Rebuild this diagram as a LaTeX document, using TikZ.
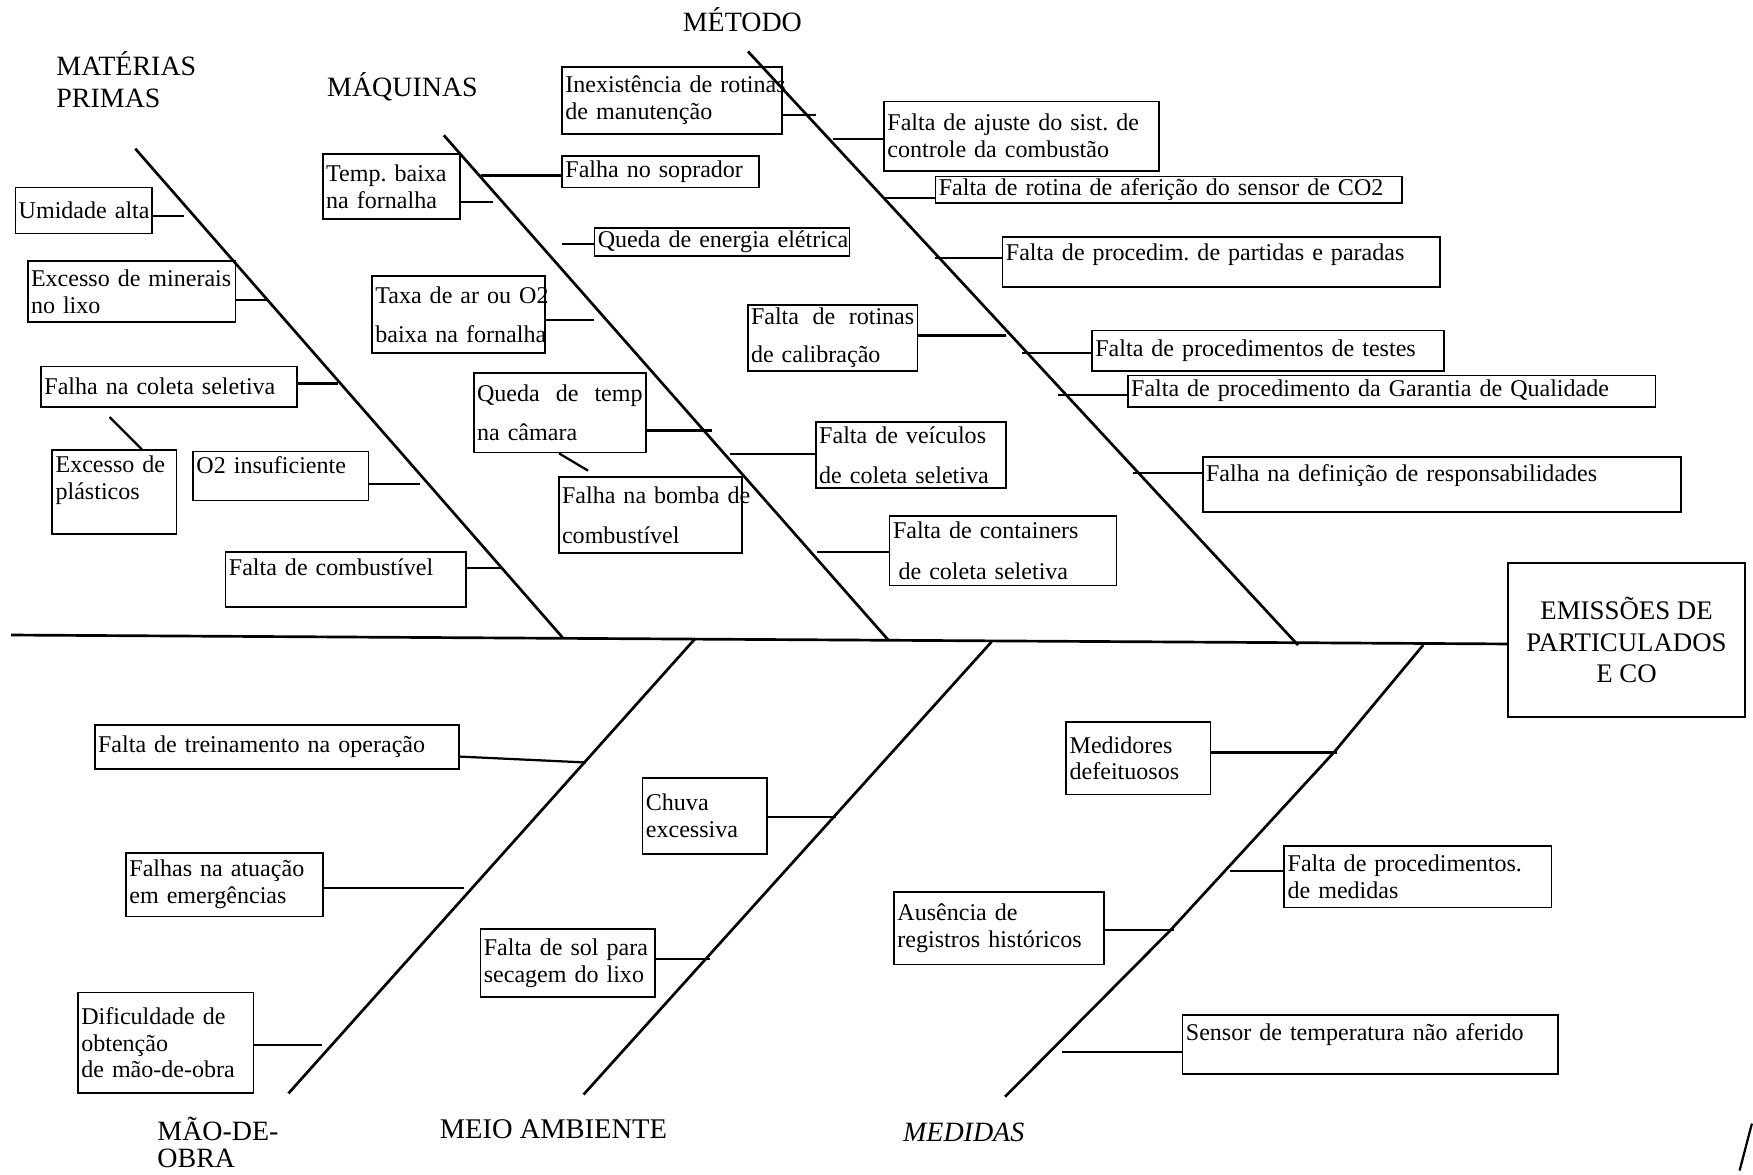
\documentclass[tikz,border=0pt]{standalone}
\usepackage{fontspec}
\setmainfont{Liberation Serif}
\frenchspacing

\begin{document}
\begin{tikzpicture}[x=1pt,y=-1pt,
    causa/.style={draw,line width=1.5pt,anchor=north west,align=left,
      inner xsep=3pt,inner ysep=2pt,font=\fontsize{21.5}{24}\selectfont},
    grupo/.style={align=left,inner sep=0pt,font=\fontsize{25}{29}\selectfont},
    espinha/.style={line width=2.4pt},
    ramo/.style={line width=2pt}]
  \useasboundingbox (0,0) rectangle (1568,1051);

  % categorias e efeito
  \node[grupo] (g-mp) at (113,71) {MATÉRIAS\\PRIMAS};
  \node[grupo] (g-maq) at (360,78) {MÁQUINAS};
  \node[grupo] (g-met) at (664,18) {MÉTODO};
  \node[grupo,font=\fontsize{25}{24}\selectfont] (g-mo) at (195,1022) {MÃO-DE-\\OBRA};
  \node[grupo,font=\fontsize{25.5}{29}\selectfont] (g-ma) at (495,1010) {MEIO AMBIENTE};
  \node[grupo,font=\fontsize{25}{29}\selectfont\itshape] (g-med) at (862,1013) {MEDIDAS};
  \node[draw,line width=1.8pt,anchor=north west,minimum width=212pt,minimum height=137pt,
    align=center,font=\fontsize{24}{28}\selectfont] (efeito) at (1348,503)
    {EMISSÕES DE\\PARTICULADOS\\E CO};

  % materias primas
  \node[causa,text width=116pt,minimum height=41pt] (umid) at (13,167) {\mbox{Umidade alta}};
  \node[causa,text width=180pt,minimum height=54pt] (miner) at (24,233) {Excesso de minerais\\no lixo};
  \node[causa,text width=223pt,minimum height=36pt] (coleta) at (36,327) {Falha na coleta seletiva};
  \node[causa,text width=105pt,text height=18pt,text depth=53pt] (plast) at (46,402) {Excesso de\\plásticos};
  \node[causa,text width=151pt,text height=18pt,text depth=22pt] (o2) at (172,403) {O2 insuficiente};
  \node[causa,text width=209pt,text height=19pt,text depth=26pt] (comb) at (201,493) {Falta de combustível};

  % maquinas
  \node[causa,text width=117pt,minimum height=58pt] (temp) at (288,137) {Temp. baixa\\na fornalha};
  \node[causa,text width=170pt,minimum height=28pt] (sopr) at (502,139) {Falha no soprador};
  \node[causa,text width=222pt,minimum height=25pt] (energia) at (531,203) {\mbox{Queda de energia elétrica}};
  \node[causa,text width=149pt,minimum height=69pt] (taxa) at (332,246) {\mbox{Taxa de ar ou O2}\\[11pt]\mbox{baixa na fornalha}};
  \node[causa,text width=148pt,minimum height=71pt] (qtemp) at (423,333) {Queda\hfill de\hfill temp\\[11pt]na câmara};
  \node[causa,text width=158pt,minimum height=68pt] (bomba) at (499,426) {\mbox{Falha na bomba de}\\[12pt]combustível};
  \node[causa,text width=164pt,minimum height=59pt] (veic) at (729,377) {Falta de veículos\\[12pt]de coleta seletiva};
  \node[causa,text width=197pt,minimum height=62pt] (cont) at (795,461) {Falta de containers\\[12pt]\hspace{5pt}de coleta seletiva};

  % metodo
  \node[causa,text width=191pt,minimum height=60pt] (inex) at (502,59) {\mbox{Inexistência de rotinas}\\de manutenção};
  \node[causa,text width=240pt,minimum height=62pt] (ajuste) at (790,90) {Falta de ajuste do sist. de\\controle da combustão};
  \node[causa,text width=411pt,minimum height=24pt] (aferi) at (836,157) {Falta de rotina de aferição do sensor de CO2};
  \node[causa,text width=385pt,text height=19pt,text depth=22pt] (partidas) at (896,211) {Falta de procedim. de partidas e paradas};
  \node[causa,text width=146pt,minimum height=59pt] (rotcal) at (668,272) {Falta\hfill de\hfill rotinas\\[10pt]de calibração};
  \node[causa,text width=309pt,minimum height=36pt] (testes) at (976,295) {Falta de procedimentos de testes};
  \node[causa,text width=466pt,minimum height=28pt] (garantia) at (1008,335) {Falta de procedimento da Garantia de Qualidade};
  \node[causa,text width=422pt,text height=20pt,text depth=25pt] (resp) at (1075,408) {Falha na definição de responsabilidades};

  % mao-de-obra
  \node[causa,text width=320pt,minimum height=39pt] (trein) at (84,648) {Falta de treinamento na operação};
  \node[causa,text width=170pt,minimum height=57pt] (emerg) at (112,762) {Falhas na atuação\\em emergências};
  \node[causa,text width=151pt,minimum height=90pt] (dific) at (69,887) {Dificuldade de\\obtenção\\de mão-de-obra};

  % meio ambiente
  \node[causa,text width=105pt,minimum height=68pt] (chuva) at (574,695) {Chuva\\excessiva};
  \node[causa,text width=150pt,minimum height=61pt] (sol) at (429,830) {Falta de sol para\\secagem do lixo};

  % medidas
  \node[causa,text width=123pt,minimum height=65pt] (medid) at (953,645) {Medidores\\defeituosos};
  \node[causa,text width=233pt,minimum height=55pt] (proced) at (1148,756) {Falta de procedimentos.\\de medidas};
  \node[causa,text width=182pt,minimum height=65pt] (ausen) at (799,797) {Ausência de\\registros históricos};
  \node[causa,text width=330pt,text height=21pt,text depth=28pt] (sensor) at (1057,907) {Sensor de temperatura não aferido};

  % espinhas
  \coordinate (cauda) at (10,568);
  \coordinate (mp1) at (121,133);  \coordinate (mp2) at (503,570);
  \coordinate (maq1) at (397,121); \coordinate (maq2) at (795,573);
  \coordinate (met1) at (669,46);  \coordinate (met2) at (1161,577);
  \coordinate (mo1) at (622,571);  \coordinate (mo2) at (258,978);
  \coordinate (ma1) at (887,574);  \coordinate (ma2) at (522,979);
  \coordinate (med1) at (1273,577); \coordinate (med2) at (899,981);

  \draw[espinha] (cauda) -- (efeito.west |- 0,576);
  \draw[espinha] (mp1) -- (mp2);
  \draw[espinha] (maq1) -- (maq2);
  \draw[espinha] (met1) -- (met2);
  \draw[espinha] (mo1) -- (mo2);
  \draw[espinha] (ma1) -- (ma2);
  \draw[espinha] (med1) -- (1194,672) -- (1046,833) -- (med2);

  % pontas dos ramos
  \coordinate (k-umid) at (165,193);  \coordinate (k-miner) at (240,268);
  \coordinate (k-coleta) at (302,343); \coordinate (k-o2) at (376,433);
  \coordinate (k-comb) at (450,508);  \coordinate (k-plast) at (98,373);
  \coordinate (k-temp) at (441,181);  \coordinate (k-sopr) at (430,157);
  \coordinate (k-energia) at (503,218); \coordinate (k-taxa) at (531,286);
  \coordinate (k-qtemp) at (637,385); \coordinate (k-bomba) at (526,421);
  \coordinate (k-veic) at (653,406);  \coordinate (k-cont) at (731,494);
  \coordinate (k-inex) at (730,103);  \coordinate (k-ajuste) at (745,124);
  \coordinate (k-aferi) at (790,177); \coordinate (k-partidas) at (836,231);
  \coordinate (k-rotcal) at (900,300); \coordinate (k-testes) at (914,316);
  \coordinate (k-garantia) at (946,353); \coordinate (k-resp) at (1013,423);
  \coordinate (k-trein) at (524,682); \coordinate (k-emerg) at (415,794);
  \coordinate (k-dific) at (288,935); \coordinate (k-chuva) at (748,731);
  \coordinate (k-sol) at (635,858);   \coordinate (k-medid) at (1196,673);
  \coordinate (k-proced) at (1100,779); \coordinate (k-ausen) at (1050,832);
  \coordinate (k-sensor) at (950,941);

  % ramos
  \draw[ramo] (umid.east |- k-umid) -- (k-umid);
  \draw[ramo] (miner.east |- k-miner) -- (k-miner);
  \draw[ramo] (coleta.east |- k-coleta) -- (k-coleta);
  \draw[ramo] (o2.east |- k-o2) -- (k-o2);
  \draw[ramo] (comb.east |- k-comb) -- (k-comb);
  \draw[ramo] (k-plast) -- (plast.north -| 127,0);
  \draw[ramo] (temp.east |- k-temp) -- (k-temp);
  \draw[ramo] (k-sopr) -- (sopr.west |- k-sopr);
  \draw[ramo] (k-energia) -- (energia.west |- k-energia);
  \draw[ramo] (taxa.east |- k-taxa) -- (k-taxa);
  \draw[ramo] (qtemp.east |- k-qtemp) -- (k-qtemp);
  \draw[ramo] (qtemp.south -| 500,0) -- (k-bomba);
  \draw[ramo] (k-veic) -- (veic.west |- k-veic);
  \draw[ramo] (k-cont) -- (cont.west |- k-cont);
  \draw[ramo] (inex.east |- k-inex) -- (k-inex);
  \draw[ramo] (k-ajuste) -- (ajuste.west |- k-ajuste);
  \draw[ramo] (k-aferi) -- (aferi.west |- k-aferi);
  \draw[ramo] (k-partidas) -- (partidas.west |- k-partidas);
  \draw[ramo] (rotcal.east |- k-rotcal) -- (k-rotcal);
  \draw[ramo] (k-testes) -- (testes.west |- k-testes);
  \draw[ramo] (k-garantia) -- (garantia.west |- k-garantia);
  \draw[ramo] (k-resp) -- (resp.west |- k-resp);
  \draw[ramo] ([yshift=-8.5pt]trein.east) -- (k-trein);
  \draw[ramo] (emerg.east |- k-emerg) -- (k-emerg);
  \draw[ramo] (dific.east |- k-dific) -- (k-dific);
  \draw[ramo] (chuva.east |- k-chuva) -- (k-chuva);
  \draw[ramo] (sol.east |- k-sol) -- (k-sol);
  \draw[ramo] (medid.east |- k-medid) -- (k-medid);
  \draw[ramo] (k-proced) -- (proced.west |- k-proced);
  \draw[ramo] (ausen.east |- k-ausen) -- (k-ausen);
  \draw[ramo] (k-sensor) -- (sensor.west |- k-sensor);

  \draw[ramo] (1556,1047) -- (1567,1005);
\end{tikzpicture}
\end{document}
